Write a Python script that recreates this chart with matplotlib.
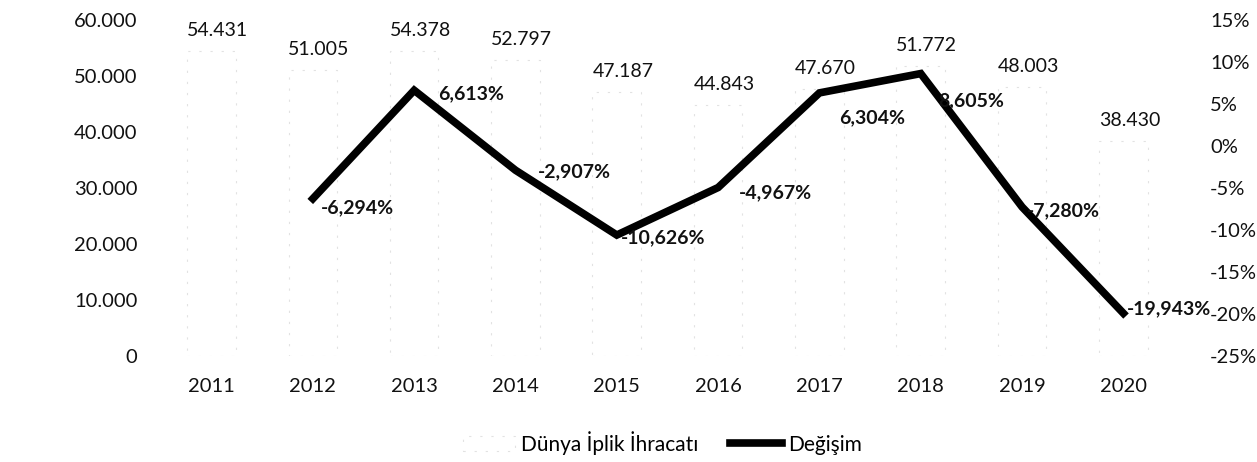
import numpy as np
import matplotlib
matplotlib.use('Agg')
import matplotlib.pyplot as plt
from matplotlib.ticker import FuncFormatter

plt.rcParams['font.family'] = ['Lato', 'DejaVu Sans']

# Data
years = ['2011', '2012', '2013', '2014', '2015', '2016', '2017', '2018', '2019', '2020']
exports = [54431, 51005, 54378, 52797, 47187, 44843, 47670, 51772, 48003, 38430]
change_years = ['2012', '2013', '2014', '2015', '2016', '2017', '2018', '2019', '2020']
change = [-6.294, 6.613, -2.907, -10.626, -4.967, 6.304, 8.605, -7.280, -19.943]

# label offsets for the change labels (pixels, right of / below the point)
pct_offsets = [(8, -9), (24, -3), (22, -2), (4, -3), (21, -5), (20, -25), (17, -27), (5, -4), (3, 5)]


def tr_num(v):
    return f'{int(round(v)):,}'.replace(',', '.')


def tr_pct(v):
    return f'{v:.3f}'.replace('.', ',') + '%'


fig = plt.figure(figsize=(12.57, 4.62), dpi=100)
ax = fig.add_axes([0.128, 0.23, 0.806, 0.727])
ax2 = ax.twinx()

x = np.arange(len(years))
# the bars are almost washed out in the original scan
bars = ax.bar(x, exports, width=0.48, facecolor='white', edgecolor='#e2e2e2',
              linewidth=0.8, linestyle=(0, (2, 8)), label='Dünya İplik İhracatı')
for xi, v in zip(x, exports):
    ax.annotate(tr_num(v), (xi, v), xytext=(6, 12), textcoords='offset pixels',
                ha='center', va='bottom', fontsize=14, color='#111111')

ax.set_xlim(-0.5, len(years) - 0.5)
ax.set_ylim(0, 60000)
ax.set_yticks(np.arange(0, 60001, 10000))
ax.yaxis.set_major_formatter(FuncFormatter(lambda v, p: tr_num(v)))
ax.set_xticks(x)
ax.set_xticklabels(years)

xc = [years.index(y) for y in change_years]
ax2.plot(xc, np.array(change) / 100, color='black', linewidth=5.5,
         solid_joinstyle='miter', label='Değişim')
for xi, v, off in zip(xc, change, pct_offsets):
    ax2.annotate(tr_pct(v), (xi, v / 100), xytext=off, textcoords='offset pixels',
                 ha='left', va='center', fontsize=14, fontweight='bold', color='#111111')

ax2.set_ylim(-0.25, 0.15)
ax2.set_yticks(np.arange(-0.25, 0.151, 0.05))
ax2.yaxis.set_major_formatter(FuncFormatter(lambda v, p: f'{round(v * 100):d}%'))

for a in (ax, ax2):
    for s in a.spines.values():
        s.set_visible(False)
    a.tick_params(length=0, labelsize=14.5, colors='#111111')
ax.tick_params(axis='y', pad=17)
ax.tick_params(axis='x', pad=16)
ax2.tick_params(axis='y', pad=26)

h1, l1 = ax.get_legend_handles_labels()
h2, l2 = ax2.get_legend_handles_labels()
fig.legend(h1 + h2, l1 + l2, loc='center', bbox_to_anchor=(0.527, 0.042), ncol=2,
           frameon=False, fontsize=15, handlelength=2.5, columnspacing=1.5,
           handletextpad=0.3)

plt.savefig('out.png', dpi=100)
